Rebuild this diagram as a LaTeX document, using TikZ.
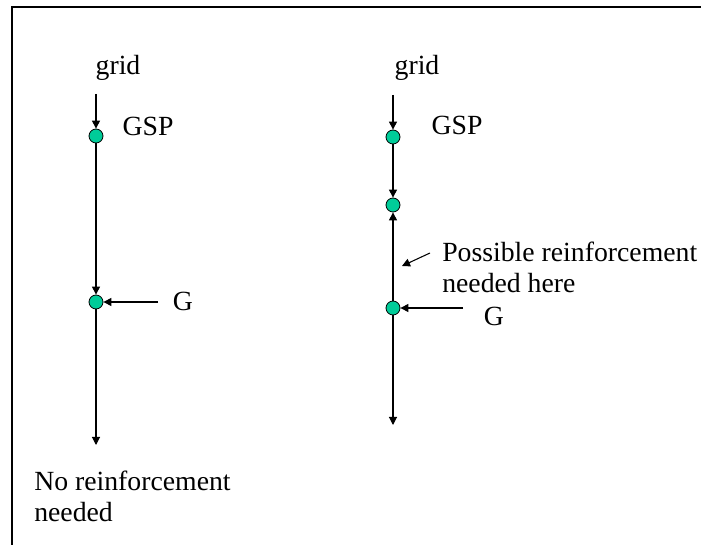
\documentclass[tikz,border=0pt]{standalone}
\usepackage{fontspec}
\setmainfont{Liberation Serif}
\usetikzlibrary{arrows.meta}
\definecolor{busgreen}{RGB}{0,204,153}
\tikzset{
  bus/.style={circle, draw=black, line width=0.6pt, fill=busgreen, inner sep=0pt, minimum size=10.5pt},
  lbl/.style={inner sep=0pt, font=\fontsize{20.8}{23.6}\selectfont},
  flow/.style={line width=0.8pt, -{Triangle[width=6pt,length=6pt]}},
  plain/.style={line width=0.8pt}
}

\begin{document}
\begin{tikzpicture}[x=0.75pt, y=-0.75pt]
			%%%%% START %%%%%
			\useasboundingbox (0,0) rectangle (701,545);
			\draw[line width=1.5pt] (720,7) -- (12,7) -- (12,560);
			
			% left feeder
			\node[lbl, anchor=base] (grid1) at (118,75) {grid};
			\coordinate (gridin1) at (96,94);
			\node[bus] (gsp1) at (96,136) {};
			\node[lbl, anchor=base] (gsptxt1) at (148,136) {GSP};
			\node[bus] (g1) at (96,302) {};
			\node[lbl, anchor=base] (gtxt1) at (183,311) {G};
			\coordinate (gin1) at (158,302);
			\coordinate (end1) at (96,445);
			\node[lbl, anchor=base west, align=left] (note1) at (34,522) {No reinforcement\\needed};
			
			\draw[flow] (gridin1) -- (gsp1);
			\draw[flow] (gsp1) -- (g1);
			\draw[flow] (gin1) -- (g1);
			\draw[flow] (g1) -- (end1);
			
			% right feeder
			\node[lbl, anchor=base] (grid2) at (417,75) {grid};
			\coordinate (gridin2) at (393,95);
			\node[bus] (gsp2) at (393,137) {};
			\node[lbl, anchor=base] (gsptxt2) at (457,135) {GSP};
			\node[bus] (mid2) at (393,205) {};
			\node[bus] (g2) at (393,308) {};
			\node[lbl, anchor=base] (gtxt2) at (494,326) {G};
			\coordinate (gin2) at (463,308);
			\coordinate (end2) at (393,425);
			\node[lbl, anchor=base west, align=left] (note2) at (442,293) {Possible reinforcement\\needed here};
			\coordinate (notefrom) at (430,253);
			\coordinate (noteto) at (402,266);
			
			\draw[flow] (gridin2) -- (gsp2);
			\draw[flow] (gsp2) -- (mid2);
			\draw[flow] (g2) -- (mid2);
			\draw[flow] (gin2) -- (g2);
			\draw[flow] (g2) -- (end2);
			\draw[flow] (notefrom) -- (noteto);
			%%%%% END %%%%%
\end{tikzpicture}
\end{document}
